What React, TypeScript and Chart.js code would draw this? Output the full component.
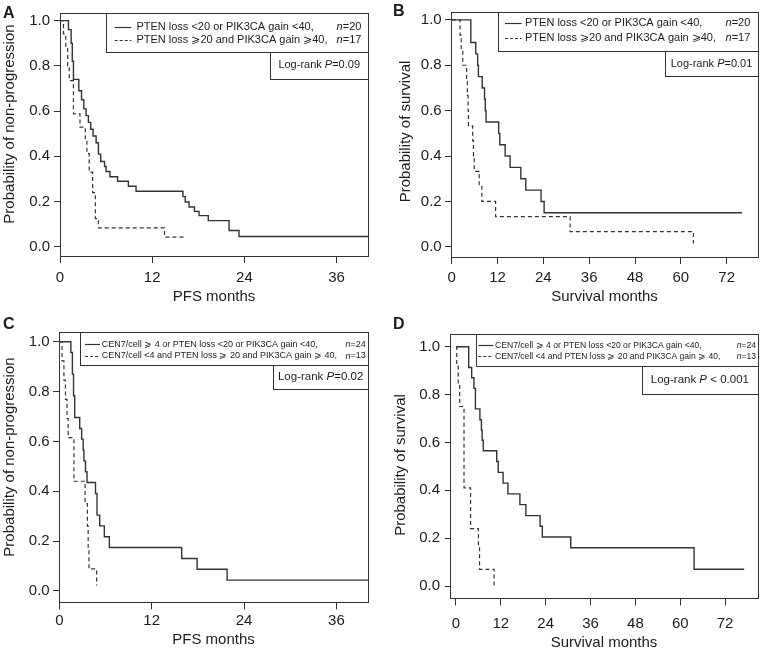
import { useEffect, useRef } from 'react';
import { Chart, registerables } from 'chart.js';

Chart.register(...registerables);

const FONT = '"Liberation Sans", Arial, Helvetica, sans-serif';
const TEXT = '#1c1c1c';
const LINE = '#333333';

// ---------------- Data ----------------
const probTicks = [0, 0.2, 0.4, 0.6, 0.8, 1.0];
const pfsTicks = [0, 12, 24, 36];
const osTicks = [0, 12, 24, 36, 48, 60, 72];

// Panel A: PFS, PTEN / PIK3CA
const aSolidMonths = [0, 1.1, 1.45, 1.6, 1.75, 2.45, 2.8, 3.1, 3.4, 3.7, 4.0, 4.3, 4.7, 5.0, 5.3, 5.8, 6.0, 6.5, 7.5, 8.9, 9.9, 16.0, 16.3, 16.8, 17.5, 18.1, 19.3, 22.0, 23.3];
const aSolidProb = [1, 0.96, 0.9, 0.82, 0.74, 0.69, 0.65, 0.61, 0.58, 0.55, 0.52, 0.49, 0.46, 0.41, 0.377, 0.355, 0.333, 0.31, 0.29, 0.268, 0.246, 0.222, 0.198, 0.176, 0.157, 0.138, 0.116, 0.072, 0.046];
const aSolidEnd = 40.1;
const aDashMonths = [0, 0.45, 0.75, 1.0, 1.2, 1.75, 2.6, 3.3, 3.5, 3.8, 4.25, 4.6, 5.0, 13.6, 16.0];
const aDashProb = [1, 0.941, 0.882, 0.8, 0.735, 0.588, 0.529, 0.47, 0.412, 0.33, 0.24, 0.125, 0.084, 0.043, 0.03];
const aDashEnd = 16.0;

// Panel B: OS, PTEN / PIK3CA
const bSolidMonths = [0, 5.0, 6.3, 6.8, 7.0, 8.0, 8.6, 8.8, 9.0, 12.3, 12.6, 14.0, 15.3, 18.1, 19.4, 23.4, 24.2];
const bSolidProb = [1, 0.9, 0.85, 0.8, 0.75, 0.7, 0.65, 0.6, 0.55, 0.5, 0.45, 0.4, 0.35, 0.3, 0.25, 0.2, 0.15];
const bSolidEnd = 76;
const bDashMonths = [0, 2.2, 2.5, 2.9, 3.9, 4.1, 4.3, 4.4, 5.5, 5.7, 5.9, 7.2, 7.9, 11.5, 31.0, 63.3];
const bDashProb = [1, 0.933, 0.867, 0.8, 0.733, 0.667, 0.6, 0.533, 0.467, 0.4, 0.333, 0.267, 0.2, 0.133, 0.067, 0.015];
const bDashEnd = 63.3;

// Panel C: PFS, CEN7 / PTEN / PIK3CA
const cSolidMonths = [0, 1.5, 1.7, 1.85, 2.0, 2.65, 2.9, 3.1, 3.2, 3.4, 3.6, 4.7, 4.9, 5.25, 5.85, 6.5, 15.9, 17.9, 21.8];
const cSolidProb = [1, 0.957, 0.87, 0.783, 0.696, 0.652, 0.609, 0.565, 0.522, 0.478, 0.435, 0.391, 0.304, 0.261, 0.217, 0.174, 0.13, 0.087, 0.043];
const cSolidEnd = 40.1;
const cDashMonths = [0, 0.35, 0.6, 0.8, 1.0, 1.15, 1.9, 3.35, 3.65, 3.75, 3.85, 4.85];
const cDashProb = [1, 0.923, 0.846, 0.769, 0.692, 0.615, 0.44, 0.35, 0.26, 0.175, 0.088, 0.022];
const cDashEnd = 4.85;

// Panel D: OS, CEN7 / PTEN / PIK3CA
const dSolidMonths = [0, 3.4, 4.2, 4.8, 5.2, 6.4, 6.8, 7.0, 7.3, 10.9, 11.3, 12.6, 13.9, 17.1, 18.7, 22.5, 23.1, 30.7, 63.7];
const dSolidProb = [1, 0.913, 0.87, 0.826, 0.74, 0.695, 0.652, 0.609, 0.565, 0.52, 0.475, 0.43, 0.385, 0.34, 0.294, 0.25, 0.205, 0.16, 0.07];
const dSolidEnd = 77.1;
const dDashMonths = [0, 0.2, 0.6, 1.0, 2.15, 3.9, 6.0, 6.3, 10.2];
const dDashProb = [1, 0.923, 0.846, 0.75, 0.41, 0.24, 0.16, 0.07, 0.0];
const dDashEnd = 10.2;

const abLabels = ['PTEN loss <20 or PIK3CA gain <40,', 'PTEN loss \u2A7E20 and PIK3CA gain \u2A7E40,'];
const abN = ['20', '17'];
const cdLabels = ['CEN7/cell \u2A7E 4 or PTEN loss <20 or PIK3CA gain <40,', 'CEN7/cell <4 and PTEN loss \u2A7E 20 and PIK3CA gain \u2A7E 40,'];
const cdN = ['24', '13'];

// ---------------- Layout ----------------
type Series = { months: number[]; prob: number[]; end: number; dashed: boolean };
type Part = [string, boolean];

interface Panel {
  key: string;
  letter: string;
  letterX: number;
  letterY: number;
  left: number;
  top: number;
  width: number;
  height: number;
  area: [number, number, number, number];
  xMin: number;
  xMax: number;
  yMin: number;
  yMax: number;
  xTicks: number[];
  xTitle: string;
  yTitle: string;
  xTitleY: number;
  yTitleX: number;
  yTitleY: number;
  xTick: [number, number];
  yTick: [number, number];
  series: Series[];
  legend: { w: number; h: number; rows: [number, number]; sample: [number, number]; textX: number; nRight: number; size: number; labels: string[]; ns: string[] };
  logrank: { w: number; h: number; size: number; parts: Part[] };
}

const PANELS: Panel[] = [
  {
    key: 'A', letter: 'A', letterX: 3, letterY: 4.5,
    left: 0, top: 0, width: 380, height: 320,
    area: [60, 9, 368, 256],
    xMin: 0, xMax: 40.09, yMin: -0.0404, yMax: 1.0335,
    xTicks: pfsTicks, xTitle: 'PFS months', yTitle: 'Probability of non-progression',
    xTitleY: 297, yTitleX: 10, yTitleY: 124,
    xTick: [7, 6.3], yTick: [6, 4],
    series: [
      { months: aSolidMonths, prob: aSolidProb, end: aSolidEnd, dashed: false },
      { months: aDashMonths, prob: aDashProb, end: aDashEnd, dashed: true },
    ],
    legend: { w: 261.6, h: 38.7, rows: [13.7, 27], sample: [8.3, 25], textX: 30, nRight: 6.6, size: 11, labels: abLabels, ns: abN },
    logrank: { w: 97.6, h: 27.3, size: 11, parts: [['Log-rank ', false], ['P', true], ['=0.09', false]] },
  },
  {
    key: 'B', letter: 'B', letterX: 393, letterY: 3,
    left: 380, top: 0, width: 380, height: 320,
    area: [71, 8, 378, 257],
    xMin: -0.18, xMax: 80.2, yMin: -0.0446, yMax: 1.0333,
    xTicks: osTicks, xTitle: 'Survival months', yTitle: 'Probability of survival',
    xTitleY: 297, yTitleX: 26, yTitleY: 131.5,
    xTick: [7, 4.8], yTick: [6, 3.3],
    series: [
      { months: bSolidMonths, prob: bSolidProb, end: bSolidEnd, dashed: false },
      { months: bDashMonths, prob: bDashProb, end: bDashEnd, dashed: true },
    ],
    legend: { w: 259.7, h: 38.7, rows: [11, 25.3], sample: [6.7, 23.4], textX: 26.7, nRight: 7.7, size: 11, labels: abLabels, ns: abN },
    logrank: { w: 93, h: 25, size: 11, parts: [['Log-rank ', false], ['P', true], ['=0.01', false]] },
  },
  {
    key: 'C', letter: 'C', letterX: 3, letterY: 315.5,
    left: 0, top: 320, width: 380, height: 332,
    area: [59, 8, 368, 282],
    xMin: -0.04, xMax: 40.1, yMin: -0.0447, yMax: 1.038,
    xTicks: pfsTicks, xTitle: 'PFS months', yTitle: 'Probability of non-progression',
    xTitleY: 320, yTitleX: 10, yTitleY: 137,
    xTick: [7.5, 2.5], yTick: [6, 3.3],
    series: [
      { months: cSolidMonths, prob: cSolidProb, end: cSolidEnd, dashed: false },
      { months: cDashMonths, prob: cDashProb, end: cDashEnd, dashed: true },
    ],
    legend: { w: 288, h: 32.7, rows: [12, 23.7], sample: [5, 20], textX: 21.7, nRight: 2.3, size: 9, labels: cdLabels, ns: cdN },
    logrank: { w: 94.7, h: 23.6, size: 11.5, parts: [['Log-rank ', false], ['P', true], ['=0.02', false]] },
  },
  {
    key: 'D', letter: 'D', letterX: 393, letterY: 315.5,
    left: 380, top: 320, width: 380, height: 332,
    area: [70, 7, 378, 278],
    xMin: -1.6, xMax: 80.8, yMin: -0.05, yMax: 1.053,
    xTicks: osTicks, xTitle: 'Survival months', yTitle: 'Probability of survival',
    xTitleY: 322.7, yTitleX: 21, yTitleY: 145,
    xTick: [7.5, 9], yTick: [5, 5],
    series: [
      { months: dSolidMonths, prob: dSolidProb, end: dSolidEnd, dashed: false },
      { months: dDashMonths, prob: dDashProb, end: dDashEnd, dashed: true },
    ],
    legend: { w: 282, h: 32.3, rows: [11.3, 22.3], sample: [2.3, 17.3], textX: 19, nRight: 2, size: 8.6, labels: cdLabels, ns: cdN },
    logrank: { w: 116.3, h: 27.4, size: 11.5, parts: [['Log-rank ', false], ['P', true], [' < 0.001', false]] },
  },
];

// ---------------- Helpers ----------------
function kmPoints(months: number[], prob: number[], end: number) {
  const pts = months.map((m, i) => ({ x: m, y: prob[i] }));
  if (end > months[months.length - 1]) pts.push({ x: end, y: prob[prob.length - 1] });
  return pts;
}

function drawParts(ctx: CanvasRenderingContext2D, parts: Part[], x: number, y: number, size: number, align: 'left' | 'right' | 'center') {
  const fonts = parts.map(([, it]) => `${it ? 'italic ' : ''}${size}px ${FONT}`);
  const widths = parts.map(([t], i) => {
    ctx.font = fonts[i];
    return ctx.measureText(t).width;
  });
  const total = widths.reduce((a, b) => a + b, 0);
  let sx = align === 'left' ? x : align === 'right' ? x - total : x - total / 2;
  ctx.textAlign = 'left';
  ctx.textBaseline = 'middle';
  ctx.fillStyle = TEXT;
  parts.forEach(([t], i) => {
    ctx.font = fonts[i];
    ctx.fillText(t, sx, y);
    sx += widths[i];
  });
}

const crisp = (v: number) => Math.round(v) + 0.5;

function makeChart(canvas: HTMLCanvasElement, p: Panel) {
  const [, at, ar, ab] = p.area;
  const al = p.area[0];
  const hx = p.xTitleY - ab + 9;

  const overlay = {
    id: 'kmOverlay' + p.key,
    afterDraw(chart: any) {
      const ctx: CanvasRenderingContext2D = chart.ctx;
      const ca = chart.chartArea;
      ctx.save();
      ctx.strokeStyle = LINE;
      ctx.lineWidth = 1;
      ctx.setLineDash([]);
      // frame
      ctx.strokeRect(crisp(ca.left), crisp(ca.top), Math.round(ca.right) - Math.round(ca.left), Math.round(ca.bottom) - Math.round(ca.top));

      // y title
      ctx.save();
      ctx.translate(p.yTitleX, p.yTitleY);
      ctx.rotate(-Math.PI / 2);
      ctx.font = `15px ${FONT}`;
      ctx.fillStyle = TEXT;
      ctx.textAlign = 'center';
      ctx.textBaseline = 'middle';
      ctx.fillText(p.yTitle, 0, 0);
      ctx.restore();

      // legend box
      const L = p.legend;
      const lx1 = ca.right;
      const lx0 = lx1 - L.w;
      const ly0 = ca.top;
      const ly1 = ly0 + L.h;
      ctx.fillStyle = '#ffffff';
      ctx.fillRect(lx0, ly0, L.w, L.h);
      ctx.strokeStyle = LINE;
      ctx.strokeRect(crisp(lx0), crisp(ly0), Math.round(lx1) - Math.round(lx0), Math.round(ly1) - Math.round(ly0));
      L.labels.forEach((lab, i) => {
        const y = ly0 + L.rows[i];
        const dashed = p.series[i].dashed;
        ctx.save();
        ctx.strokeStyle = LINE;
        ctx.lineWidth = 1.2;
        ctx.setLineDash(dashed ? [3, 2] : []);
        ctx.beginPath();
        ctx.moveTo(lx0 + L.sample[0], Math.round(y) + 0.5);
        ctx.lineTo(lx0 + L.sample[1], Math.round(y) + 0.5);
        ctx.stroke();
        ctx.restore();
        drawParts(ctx, [[lab, false]], lx0 + L.textX, y, L.size, 'left');
        drawParts(ctx, [['n', true], ['=' + L.ns[i], false]], lx1 - L.nRight, y, L.size, 'right');
      });

      // log-rank box
      const R = p.logrank;
      const rx1 = ca.right;
      const rx0 = rx1 - R.w;
      const ry0 = ly1;
      const ry1 = ry0 + R.h;
      ctx.fillStyle = '#ffffff';
      ctx.fillRect(rx0, ry0, R.w, R.h);
      ctx.strokeStyle = LINE;
      ctx.lineWidth = 1;
      ctx.setLineDash([]);
      ctx.strokeRect(crisp(rx0), crisp(ry0), Math.round(rx1) - Math.round(rx0), Math.round(ry1) - Math.round(ry0));
      drawParts(ctx, R.parts, (rx0 + rx1) / 2, (ry0 + ry1) / 2, R.size, 'center');
      ctx.restore();
    },
  };

  return new Chart(canvas, {
    type: 'scatter',
    data: {
      datasets: p.series.map((s) => ({
        data: kmPoints(s.months, s.prob, s.end),
        showLine: true,
        stepped: 'before' as const,
        borderColor: LINE,
        borderWidth: s.dashed ? 1.2 : 1.4,
        borderDash: s.dashed ? [4, 3] : [],
        pointRadius: 0,
        pointHoverRadius: 0,
        fill: false,
        tension: 0,
      })),
    },
    options: {
      animation: false,
      responsive: false,
      maintainAspectRatio: false,
      events: [],
      layout: {
        autoPadding: false,
        padding: { left: 0, top: at, right: p.width - ar, bottom: p.height - ab - hx },
      },
      plugins: { legend: { display: false }, tooltip: { enabled: false }, title: { display: false } },
      scales: {
        x: {
          type: 'linear',
          min: p.xMin,
          max: p.xMax,
          afterBuildTicks: (s: any) => {
            s.ticks = p.xTicks.map((v) => ({ value: v }));
          },
          afterFit: (s: any) => {
            s.height = hx;
          },
          ticks: {
            autoSkip: false,
            maxRotation: 0,
            padding: p.xTick[1],
            color: TEXT,
            font: { family: FONT, size: 15 },
            callback: (v: any) => String(v),
          },
          grid: { display: true, drawOnChartArea: false, drawTicks: true, tickLength: p.xTick[0], color: LINE, lineWidth: 1 },
          border: { display: false },
          title: { display: true, text: p.xTitle, color: TEXT, font: { family: FONT, size: 15 }, padding: 0 },
        },
        y: {
          type: 'linear',
          min: p.yMin,
          max: p.yMax,
          afterBuildTicks: (s: any) => {
            s.ticks = probTicks.map((v) => ({ value: v }));
          },
          afterFit: (s: any) => {
            s.width = al;
          },
          ticks: {
            autoSkip: false,
            padding: p.yTick[1],
            color: TEXT,
            font: { family: FONT, size: 15 },
            callback: (v: any) => Number(v).toFixed(1),
          },
          grid: { display: true, drawOnChartArea: false, drawTicks: true, tickLength: p.yTick[0], color: LINE, lineWidth: 1 },
          border: { display: false },
          title: { display: false },
        },
      },
    },
    plugins: [overlay],
  } as any);
}

function KMPanel({ p }: { p: Panel }) {
  const ref = useRef<HTMLCanvasElement>(null);
  useEffect(() => {
    if (!ref.current) return;
    const chart = makeChart(ref.current, p);
    return () => chart.destroy();
  }, [p]);
  return (
    <canvas
      ref={ref}
      width={p.width}
      height={p.height}
      style={{ position: 'absolute', left: p.left, top: p.top, width: p.width, height: p.height }}
    />
  );
}

export default function App() {
  return (
    <div style={{ position: 'fixed', left: 0, top: 0, width: 760, height: 652, background: '#ffffff', overflow: 'hidden' }}>
      {PANELS.map((p) => (
        <KMPanel key={p.key} p={p} />
      ))}
      {PANELS.map((p) => (
        <div
          key={'letter' + p.key}
          style={{
            position: 'absolute',
            left: p.letterX,
            top: p.letterY,
            font: `bold 16px ${FONT}`,
            lineHeight: '16px',
            color: TEXT,
          }}
        >
          {p.letter}
        </div>
      ))}
    </div>
  );
}
